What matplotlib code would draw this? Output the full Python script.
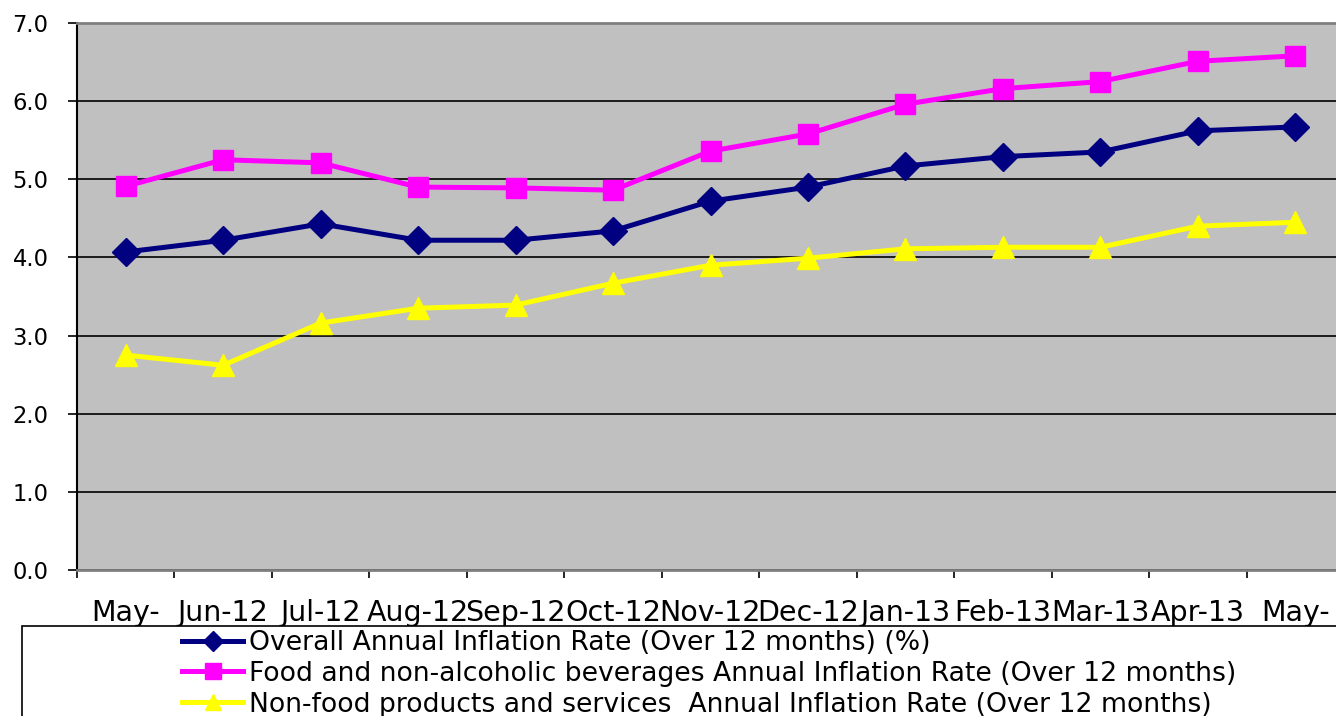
import matplotlib
matplotlib.use("Agg")
import matplotlib.pyplot as plt
from matplotlib.patches import Rectangle

plt.rcParams['font.family'] = ['DejaVu Sans']

# data
months = ['May-', 'Jun-12', 'Jul-12', 'Aug-12', 'Sep-12', 'Oct-12', 'Nov-12',
          'Dec-12', 'Jan-13', 'Feb-13', 'Mar-13', 'Apr-13', 'May-']
overall = [4.07, 4.22, 4.43, 4.22, 4.22, 4.34, 4.72, 4.90, 5.17, 5.29, 5.35, 5.62, 5.67]
food = [4.91, 5.25, 5.21, 4.90, 4.89, 4.86, 5.36, 5.58, 5.96, 6.16, 6.25, 6.51, 6.58]
nonfood = [2.75, 2.62, 3.16, 3.35, 3.39, 3.67, 3.90, 3.99, 4.11, 4.13, 4.13, 4.40, 4.45]

labels = ['Overall Annual Inflation Rate (Over 12 months) (%)',
          'Food and non-alcoholic beverages Annual Inflation Rate (Over 12 months)',
          'Non-food products and services  Annual Inflation Rate (Over 12 months)']

W, H = 1336, 716
fig = plt.figure(figsize=(W / 100, H / 100), dpi=100)
ax = fig.add_axes([77 / W, 1 - 570 / H, (1344 - 77) / W, (570 - 23) / H])
ax.set_facecolor('#C0C0C0')

x = list(range(len(months)))
l1, = ax.plot(x, overall, color='#000080', lw=3.6, marker='D', ms=14, zorder=3)
l2, = ax.plot(x, food, color='#FF00FF', lw=3.6, marker='s', ms=14.5, zorder=3)
l3, = ax.plot(x, nonfood, color='#FFFF00', lw=3.6, marker='^', ms=15.5, zorder=3)

ax.set_xlim(-0.5, len(months) - 0.5)
ax.set_ylim(0, 7)
ax.set_yticks(range(8))
ax.set_yticklabels(['%.1f' % v for v in range(8)], fontsize=16.3)
ax.tick_params(axis='y', length=6.5, width=1.2, pad=14, direction='out')
ax.set_xticks(x)
ax.set_xticklabels(months, fontsize=20.5)
ax.set_xticks([i - 0.5 for i in range(len(months) + 1)], minor=True)
ax.tick_params(axis='x', which='major', length=0, pad=21)
ax.tick_params(axis='x', which='minor', length=6, width=1.2, direction='out')

ax.grid(axis='y', color='black', lw=1.2, zorder=1)
ax.set_axisbelow(True)
ax.spines['left'].set_color('black')
ax.spines['left'].set_linewidth(1.5)
for s in ('top', 'bottom'):
    ax.spines[s].set_color('#808080')
    ax.spines[s].set_linewidth(2)
ax.spines['right'].set_visible(False)

# legend box below the plot
fig.patches.append(Rectangle((22 / W, -0.05), 1.0, 0.05 + 1 - 626 / H,
                             transform=fig.transFigure, facecolor='white',
                             edgecolor='black', lw=1.2, zorder=0))
fig.legend([l1, l2, l3], labels, loc='upper left',
           bbox_to_anchor=(182 / W, 1 - 630 / H), frameon=False, fontsize=19.2,
           handlelength=2.3, handletextpad=0.2, labelspacing=0.18,
           borderpad=0, borderaxespad=0, markerscale=0.75)

fig.savefig('out.png', dpi=100)
